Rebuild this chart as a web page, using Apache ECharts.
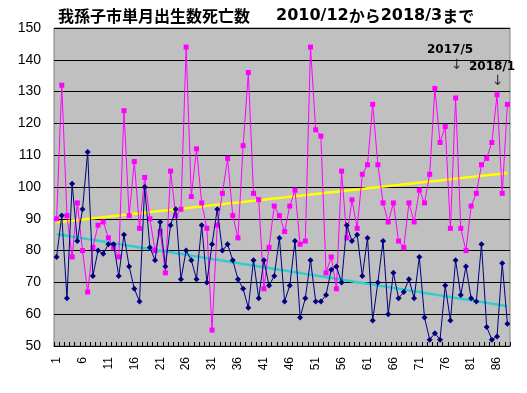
<!DOCTYPE html>
<html>
<head>
<meta charset="utf-8">
<script src="https://cdn.jsdelivr.net/npm/echarts@6/dist/echarts.min.js"></script>
<style>html,body{margin:0;padding:0;background:#fff}#c{width:527px;height:393px}</style>
</head>
<body>
<div id="c"></div>
<script>
// months 1..88 (2010/12 .. 2018/3)
const categories = Array.from({length: 88}, (_, i) => String(i + 1));
// upper (magenta) series
const deaths = [90,132,91,78,95,80,67,81,88,89,84,81,78,124,91,108,87,103,90,80,86,73,105,91,93,144,97,112,95,87,55,88,98,109,91,84,113,136,98,96,68,81,94,91,86,94,99,82,83,144,118,116,73,78,68,105,84,96,87,104,107,126,107,95,89,95,83,81,95,89,99,95,104,131,114,119,87,128,87,80,94,98,107,109,114,129,98,126];
// lower (navy) series
const births = [78,91,65,101,83,93,111,72,80,79,82,82,72,85,75,68,64,100,81,77,89,75,88,93,71,80,77,71,88,70,82,93,80,82,77,71,68,62,77,65,77,69,72,84,64,69,83,59,65,77,64,64,66,74,75,70,88,83,85,72,84,58,70,83,60,73,65,67,71,65,78,59,52,54,52,69,58,77,66,75,65,64,82,56,52,53,76,57];
const yTicks = {min: 50, max: 150, interval: 10};
const titleLeft = '我孫子市単月出生数死亡数';
const titleRight = ['2010/12', 'から', '2018/3', 'まで'];
const notes = ['2017/5', '2018/1'];

function trend(arr) {
  const n = arr.length;
  let sx = 0, sy = 0, sxx = 0, sxy = 0;
  arr.forEach((y, i) => { const x = i + 1; sx += x; sy += y; sxx += x * x; sxy += x * y; });
  const b = (n * sxy - sx * sy) / (n * sxx - sx * sx);
  const a = (sy - b * sx) / n;
  return arr.map((_, i) => +(a + b * (i + 1)).toFixed(3));
}

const chart = echarts.init(document.getElementById('c'));
chart.setOption({
  animation: false,
  backgroundColor: '#ffffff',
  grid: {left: 54, right: 17, top: 28, bottom: 47, show: true, backgroundColor: '#C0C0C0', borderColor: '#808080', borderWidth: 1},
  xAxis: {
    type: 'category', data: categories, boundaryGap: true,
    axisLine: {lineStyle: {color: '#000', width: 1}},
    axisTick: {show: true, inside: true, length: 4, interval: 0, lineStyle: {color: '#000'}},
    axisLabel: {interval: 4, rotate: 90, fontSize: 12, color: '#000', fontFamily: 'Liberation Sans', margin: 11}
  },
  yAxis: {
    type: 'value', min: yTicks.min, max: yTicks.max, interval: yTicks.interval,
    axisLine: {show: false}, axisTick: {show: false},
    splitLine: {lineStyle: {color: '#000', width: 1}},
    axisLabel: {fontSize: 14, color: '#000', fontFamily: 'Liberation Sans', margin: 13}
  },
  graphic: [
    {type: 'text', left: 58, top: 8, style: {text: titleLeft, font: 'bold 16px "Noto Sans CJK JP"', fill: '#000'}},
    {type: 'text', left: 276, top: 8, style: {
      text: '{d|' + titleRight[0] + '}{k|' + titleRight[1] + '}{d|' + titleRight[2] + '}{k|' + titleRight[3] + '}',
      rich: {
        d: {fontFamily: 'DejaVu Sans', fontWeight: 'bold', fontSize: 16, fill: '#000', verticalAlign: 'bottom', height: 22},
        k: {fontFamily: 'Noto Sans CJK JP', fontWeight: 'bold', fontSize: 16, fill: '#000', verticalAlign: 'bottom', height: 22}
      }
    }},
    {type: 'text', left: 427, top: 44, style: {text: notes[0], font: 'bold 12px "DejaVu Sans"', fill: '#000'}},
    {type: 'text', left: 451, top: 58, style: {text: '↓', font: '14px "DejaVu Sans"', fill: '#333'}},
    {type: 'text', left: 469, top: 61, style: {text: notes[1], font: 'bold 12px "DejaVu Sans"', fill: '#000'}},
    {type: 'text', left: 492, top: 74, style: {text: '↓', font: '14px "DejaVu Sans"', fill: '#333'}}
  ],
  series: [
    {type: 'line', data: trend(deaths), symbol: 'none', lineStyle: {color: '#FFFF00', width: 2.5}, z: 3},
    {type: 'line', data: trend(births), symbol: 'none', lineStyle: {color: '#33CCCC', width: 2.5}, z: 3},
    {type: 'line', data: deaths, showAllSymbol: true, symbol: 'rect', symbolSize: 5, itemStyle: {color: '#FF00FF'}, lineStyle: {color: '#FF00FF', width: 1}, z: 4},
    {type: 'line', data: births, showAllSymbol: true, symbol: 'diamond', symbolSize: 6, itemStyle: {color: '#000080'}, lineStyle: {color: '#000080', width: 1}, z: 5}
  ]
});
</script>
</body>
</html>
